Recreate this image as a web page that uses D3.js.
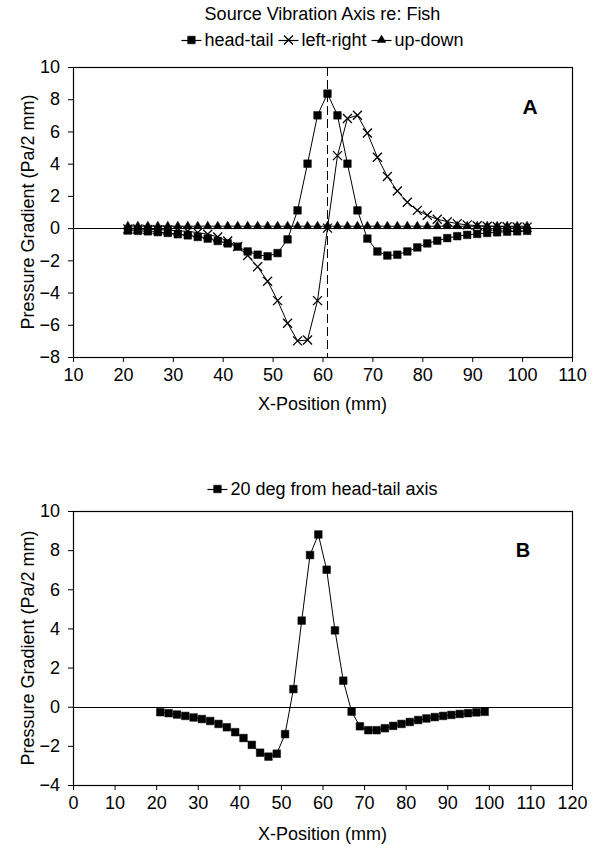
<!DOCTYPE html>
<html>
<head>
<meta charset="utf-8">
<script src="https://cdn.jsdelivr.net/npm/d3@7"></script>
<style>
body { margin: 0; background: #fff; }
text { font-family: "Liberation Sans", Arial, Helvetica, sans-serif; fill: #000; }
</style>
</head>
<body>
<svg id="chart" width="592" height="846"></svg>
<script>
'use strict';

// Panel A: x positions (mm) and pressure gradients (Pa/2 mm)
var xA = [21, 23, 25, 27, 29, 31, 33, 35, 37, 39, 41, 43, 45, 47, 49, 51, 53, 55, 57, 59, 61,
  63, 65, 67, 69, 71, 73, 75, 77, 79, 81, 83, 85, 87, 89, 91, 93, 95, 97, 99, 101];
var headTail = [-0.15, -0.17, -0.2, -0.25, -0.3, -0.38, -0.45, -0.55, -0.65, -0.8,
  -0.95, -1.15, -1.45, -1.65, -1.75, -1.55, -0.7, 1.1, 4.0, 7.0, 8.35,
  7.0, 4.0, 1.1, -0.65, -1.45, -1.7, -1.65, -1.45, -1.2, -0.95,
  -0.78, -0.62, -0.5, -0.42, -0.36, -0.3, -0.26, -0.22, -0.2, -0.17];
var leftRight = [-0.05, -0.06, -0.08, -0.1, -0.12, -0.16, -0.2, -0.28, -0.38, -0.55,
  -0.8, -1.15, -1.7, -2.4, -3.3, -4.5, -5.9, -7.0, -6.95, -4.5, 0,
  4.5, 6.8, 7.0, 5.9, 4.4, 3.2, 2.3, 1.6, 1.1, 0.8,
  0.55, 0.4, 0.28, 0.2, 0.15, 0.12, 0.1, 0.08, 0.07, 0.06];
var upDown = [0.12, 0.12, 0.12, 0.12, 0.12, 0.12, 0.12, 0.12, 0.12, 0.12,
  0.12, 0.12, 0.12, 0.12, 0.12, 0.12, 0.12, 0.12, 0.12, 0.12, 0.12,
  0.12, 0.12, 0.12, 0.12, 0.12, 0.12, 0.12, 0.12, 0.12, 0.12,
  0.12, 0.12, 0.12, 0.12, 0.12, 0.12, 0.12, 0.12, 0.12, 0.12];
var sourceX = 61;

// Panel B
var xB = [21, 23, 25, 27, 29, 31, 33, 35, 37, 39, 41, 43, 45, 47, 49, 51, 53, 55, 57, 59,
  61, 63, 65, 67, 69, 71, 73, 75, 77, 79, 81, 83, 85, 87, 89, 91, 93, 95, 97, 99];
var deg20 = [-0.28, -0.33, -0.4, -0.47, -0.55, -0.63, -0.73, -0.88, -1.05, -1.3,
  -1.6, -1.95, -2.35, -2.55, -2.4, -1.4, 0.9, 4.4, 7.75, 8.8,
  7.0, 3.9, 1.33, -0.25, -1.0, -1.2, -1.2, -1.1, -0.98, -0.88,
  -0.78, -0.68, -0.6, -0.53, -0.47, -0.42, -0.37, -0.33, -0.29, -0.26];

var xTicksA = [10, 20, 30, 40, 50, 60, 70, 80, 90, 100, 110];
var yTicksA = [-8, -6, -4, -2, 0, 2, 4, 6, 8, 10];
var xTicksB = [0, 10, 20, 30, 40, 50, 60, 70, 80, 90, 100, 110, 120];
var yTicksB = [-4, -2, 0, 2, 4, 6, 8, 10];

var svg = d3.select('#chart');
var left = 73, right = 572;

var squarePath = d3.symbol().type(d3.symbolSquare).size(58)();
var trianglePath = d3.symbol().type(d3.symbolTriangle).size(32)();
var crossPath = 'M-4.5,-4.5L4.5,4.5M-4.5,4.5L4.5,-4.5';

function drawPanel(top, bottom, xDomain, yDomain, xTicks, yTicks) {
  var x = d3.scaleLinear().domain(xDomain).range([left, right]);
  var y = d3.scaleLinear().domain(yDomain).range([bottom, top]);
  var g = svg.append('g');

  g.append('g').attr('transform', 'translate(0,' + bottom + ')')
    .call(d3.axisBottom(x).tickValues(xTicks).tickSize(5).tickSizeOuter(0).tickPadding(6))
    .call(function(a) {
      a.select('.domain').remove();
      a.selectAll('text').attr('font-size', 18).attr('font-family', null);
    });
  g.append('g').attr('transform', 'translate(' + left + ',0)')
    .call(d3.axisLeft(y).tickValues(yTicks).tickSize(5).tickSizeOuter(0).tickPadding(8))
    .call(function(a) {
      a.select('.domain').remove();
      a.selectAll('text').attr('font-size', 18).attr('font-family', null);
    });

  g.append('rect')
    .attr('x', left + 0.5).attr('y', top + 0.5)
    .attr('width', right - left).attr('height', bottom - top)
    .attr('fill', 'none').attr('stroke', '#000').attr('stroke-width', 1.2);

  g.append('line')
    .attr('x1', left).attr('x2', right)
    .attr('y1', Math.round(y(0)) + 0.5).attr('y2', Math.round(y(0)) + 0.5)
    .attr('stroke', '#000').attr('stroke-width', 1);

  g.append('text')
    .attr('transform', 'translate(28,' + (top + bottom) / 2 + ') rotate(-90)')
    .attr('text-anchor', 'middle').attr('dy', '0.35em')
    .attr('font-size', 18)
    .text('Pressure Gradient (Pa/2 mm)');

  return { x: x, y: y, g: g };
}

function drawSeries(p, xs, ys, marker, isStroke) {
  var pts = d3.zip(xs, ys);
  var line = d3.line().x(function(d) { return p.x(d[0]); }).y(function(d) { return p.y(d[1]); });
  p.g.append('path').datum(pts)
    .attr('d', line).attr('fill', 'none').attr('stroke', '#000').attr('stroke-width', 1);
  p.g.selectAll(null).data(pts).enter().append('path')
    .attr('transform', function(d) { return 'translate(' + p.x(d[0]) + ',' + p.y(d[1]) + ')'; })
    .attr('d', marker)
    .attr('fill', isStroke ? 'none' : '#000')
    .attr('stroke', '#000')
    .attr('stroke-width', isStroke ? 1.3 : 0.5);
}

function drawLegend(items, cy) {
  var g = svg.append('g');
  var pos = 0;
  items.forEach(function(it) {
    var item = g.append('g').attr('transform', 'translate(' + pos + ',0)');
    item.append('line').attr('x1', 0).attr('x2', 20).attr('y1', 0.5).attr('y2', 0.5)
      .attr('stroke', '#000').attr('stroke-width', 1.2);
    item.append('path').attr('transform', 'translate(10,0)').attr('d', it.marker)
      .attr('fill', it.stroke ? 'none' : '#000').attr('stroke', '#000')
      .attr('stroke-width', it.stroke ? 1.3 : 0.5);
    var t = item.append('text').attr('x', 23).attr('dy', '0.35em').attr('font-size', 18).text(it.label);
    pos += 23 + t.node().getComputedTextLength() + 5;
  });
  var w = pos - 5;
  g.attr('transform', 'translate(' + ((left + right) / 2 - w / 2) + ',' + cy + ')');
}

// ---- Panel A ----
svg.append('text').attr('x', (left + right) / 2).attr('y', 20)
  .attr('text-anchor', 'middle').attr('font-size', 18)
  .text('Source Vibration Axis re: Fish');

drawLegend([
  { label: 'head-tail', marker: squarePath },
  { label: 'left-right', marker: crossPath, stroke: true },
  { label: 'up-down', marker: trianglePath }
], 40);

var pA = drawPanel(67, 357, [10, 110], [-8, 10], xTicksA, yTicksA);

pA.g.append('line')
  .attr('x1', pA.x(sourceX)).attr('x2', pA.x(sourceX))
  .attr('y1', 67).attr('y2', 357)
  .attr('stroke', '#000').attr('stroke-width', 1).attr('stroke-dasharray', '9,4');

drawSeries(pA, xA, upDown, trianglePath, false);
drawSeries(pA, xA, leftRight, crossPath, true);
drawSeries(pA, xA, headTail, squarePath, false);

pA.g.append('text').attr('x', 530).attr('y', 114).attr('text-anchor', 'middle')
  .attr('font-family', '"Liberation Serif", "Times New Roman", serif')
  .attr('font-weight', 'bold').attr('font-size', 21).text('A');

svg.append('text').attr('x', (left + right) / 2).attr('y', 410)
  .attr('text-anchor', 'middle').attr('font-size', 18).text('X-Position (mm)');

// ---- Panel B ----
drawLegend([{ label: '20 deg from head-tail axis', marker: squarePath }], 489);

var pB = drawPanel(511, 785, [0, 120], [-4, 10], xTicksB, yTicksB);
drawSeries(pB, xB, deg20, squarePath, false);

pB.g.append('text').attr('x', 523).attr('y', 557).attr('text-anchor', 'middle')
  .attr('font-family', '"Liberation Serif", "Times New Roman", serif')
  .attr('font-weight', 'bold').attr('font-size', 20).text('B');

svg.append('text').attr('x', (left + right) / 2).attr('y', 840)
  .attr('text-anchor', 'middle').attr('font-size', 18).text('X-Position (mm)');
</script>
</body>
</html>
